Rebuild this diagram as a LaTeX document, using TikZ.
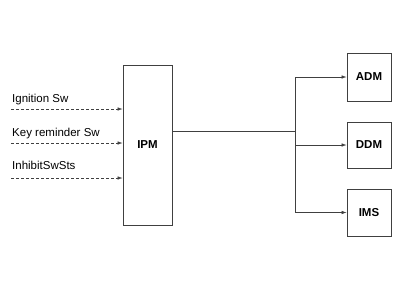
\documentclass[tikz,border=0pt]{standalone}
\usepackage{fontspec}
\setmainfont{Liberation Sans}
\usetikzlibrary{arrows.meta}

\begin{document}
\begin{tikzpicture}[x=1pt,y=-1pt,
  ecu/.style={draw=black!75,line width=0.8pt,minimum width=44pt,inner sep=0pt,font=\bfseries\fontsize{11.5}{13}\selectfont},
  sig/.style={densely dashed,black!75,line width=0.6pt,-{Latex[length=5pt,width=3.5pt]}},
  bus/.style={black!75,line width=0.6pt},
  lbl/.style={anchor=base west,inner sep=1pt,font=\fontsize{11.5}{13}\selectfont}]
  \useasboundingbox (0,0) rectangle (402,301);
  % IPM
  \node[ecu,minimum width=49pt,minimum height=160pt] (ipm) at (147.5,145) {IPM};
  % ADM
  \node[ecu,minimum height=48pt] (adm) at (369,77) {ADM};
  % DDM
  \node[ecu,minimum height=46pt] (ddm) at (369,145) {DDM};
  % IMS
  \node[ecu,minimum height=47pt] (ims) at (369,212.5) {IMS};
  % Ignition Sw
  \coordinate (ign) at (11,109);
  \draw[sig] (ign) -- (ign -| ipm.west);
  \node[lbl] (ignl) at ([yshift=6.5pt]ign) {Ignition Sw};
  % Key reminder Sw
  \coordinate (key) at (11,143);
  \draw[sig] (key) -- (key -| ipm.west);
  \node[lbl] (keyl) at ([yshift=6.5pt]key) {Key reminder Sw};
  % InhibitSwSts
  \coordinate (inh) at (11,178);
  \draw[sig] (inh) -- (inh -| ipm.west);
  \node[lbl] (inhl) at ([yshift=9pt]inh) {InhibitSwSts};
  % branch to the three modules
  \coordinate (br) at (295,131);
  \draw[bus] (br -| ipm.east) -- (br);
  \draw[bus] (br |- adm) -- (br |- ims);
  \draw[bus,-{Latex[length=5pt,width=3.5pt]}] (br |- adm) -- (adm.west);
  \draw[bus,-{Latex[length=5pt,width=3.5pt]}] (br |- ddm) -- (ddm.west);
  \draw[bus,-{Latex[length=5pt,width=3.5pt]}] (br |- ims) -- (ims.west);
\end{tikzpicture}
\end{document}
